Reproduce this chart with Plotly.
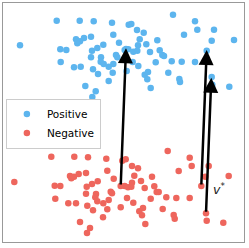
import plotly.graph_objects as go

pos_x = [56.7, 79.7, 93.7, 112, 20, 76, 80, 77.3, 84, 91, 113.3, 119, 60.3, 66.3, 103.3, 97.3, 92, 116, 117.3, 124.7,
         91, 101, 100.7, 103.7, 108.7, 113.3, 60.7, 74, 80.7, 93, 98, 112.7, 108.7, 85.3, 95.7, 92.3,
         173, 195, 197.3, 128.7, 131.3, 137, 143.7, 214, 184, 139.7, 157.3, 211.7, 234, 138, 146.3, 128.3, 133.3,
         137.3, 150, 159.7, 162.3, 164, 206.7, 132.7, 138.3, 155.7, 171.7, 181.7, 195, 126.7, 144.7, 148, 147.3,
         168.3, 179.3, 180, 211.7, 212.3, 229.3, 150.7, 126]
pos_y = [20.7, 20.7, 21.3, 22.7, 45.3, 39.3, 41.3, 43.3, 38, 36.7, 34.7, 42.7, 49.3, 50, 44.7, 48, 50.7, 55, 57.3, 50,
         57.3, 57.3, 61.7, 64, 66.7, 64, 62, 67.3, 66.7, 69.3, 74, 72.7, 81, 86, 91.3, 97,
         14.7, 21.3, 29.7, 24.7, 24, 30, 32.7, 29.7, 34.7, 39.3, 40.3, 40.7, 40, 45.3, 44.3, 49.3, 51.7,
         50.7, 52, 50.3, 55, 56, 50.7, 62, 66, 62.3, 61.3, 61.7, 62, 71, 74.7, 72, 79.3,
         72.7, 79, 82, 77, 84.7, 86.7, 88, 49]

neg_x = [51.3, 74.3, 88, 106.3, 122.3, 107.3, 86, 70, 71.3, 74, 78.7, 14.3, 113.7, 97.7, 92, 86.7, 54.7, 60.3, 120.7,
         110.7, 112, 86, 96, 95.3, 97.3, 103.3, 108.7, 55.3, 68.3, 76, 87.3, 120.7, 107.3, 93, 103, 80, 90, 87,
         167.7, 189.7, 191.7, 125.7, 132, 138, 208.7, 178.7, 134.3, 152, 205.3, 228.7, 124.7, 128, 132, 131.3,
         141, 144.7, 154.3, 156.7, 158.7, 201.3, 127, 133.3, 150.7, 166.3, 176.3, 189.7, 143, 139.3, 142,
         162.7, 173.7, 174.7, 206, 206.7, 223.3, 145.3]
neg_y = [156.7, 156.7, 157.3, 158.7, 160.7, 170.7, 173, 176, 178.3, 176.7, 174, 182, 178.7, 181.3, 184, 186.7, 185.7, 186, 186,
         191.7, 193.3, 193.7, 194, 197.3, 201.3, 203.3, 200, 198.7, 203.3, 203.3, 205.7, 207.3, 209.3, 210.3, 217.3, 222, 228, 233,
         151, 157.7, 166, 159.3, 166, 168.3, 166, 171, 175.7, 176.7, 176.7, 176, 186, 187.3, 182.7, 186.7,
         181, 188, 186.3, 192, 192, 186, 198, 202.7, 198.7, 197.3, 198, 198, 208, 211.3, 215.3,
         209, 215, 218.7, 213.3, 220.7, 222.7, 224]

arrow_x0 = [120.7, 201.3, 206]
arrow_y0 = [186, 186, 213.3]
arrow_x1 = [126, 206.7, 211.3]
arrow_y1 = [48.3, 50, 77.7]

label_text = "<i>v</i><sup>*</sup>"
label_x = 210.5
label_y = 189

BLUE = "#5DB5EE"
RED = "#EE665D"

fig = go.Figure()
fig.add_trace(go.Scatter(x=pos_x, y=pos_y, mode="markers", name="Positive",
                         marker=dict(color=BLUE, size=6.5, line=dict(width=0))))
fig.add_trace(go.Scatter(x=neg_x, y=neg_y, mode="markers", name="Negative",
                         marker=dict(color=RED, size=6.5, line=dict(width=0))))

for x0, y0, x1, y1 in zip(arrow_x0, arrow_y0, arrow_x1, arrow_y1):
    fig.add_annotation(x=x1, y=y1, ax=x0, ay=y0, xref="x", yref="y", axref="x", ayref="y",
                       text="", showarrow=True, arrowhead=2, arrowsize=1.2, arrowwidth=2.5,
                       arrowcolor="black", standoff=0, startstandoff=0)

fig.add_annotation(x=label_x, y=label_y, xref="x", yref="y", text=label_text, showarrow=False,
                   xanchor="left", yanchor="middle",
                   font=dict(family="DejaVu Sans", size=12.5, color="#222"))

fig.update_layout(
    width=249, height=248,
    margin=dict(l=3, r=5, t=3, b=6),
    paper_bgcolor="white", plot_bgcolor="white",
    font=dict(family="DejaVu Sans", size=10, color="black"),
    xaxis=dict(range=[3, 244], showgrid=False, zeroline=False, showticklabels=False, ticks="",
               showline=True, linecolor="#999", linewidth=1, mirror=True),
    yaxis=dict(range=[242, 3], showgrid=False, zeroline=False, showticklabels=False, ticks="",
               showline=True, linecolor="#999", linewidth=1, mirror=True),
    legend=dict(x=0.012, y=0.6, xanchor="left", yanchor="top",
                bordercolor="#cccccc", borderwidth=1, bgcolor="white",
                font=dict(family="DejaVu Sans", size=10.5, color="black"),
                itemsizing="trace"),
    showlegend=True,
)

fig.write_html("out.html", config={"displayModeBar": False},
               post_script="document.body.style.margin='0';document.body.style.padding='0';")
